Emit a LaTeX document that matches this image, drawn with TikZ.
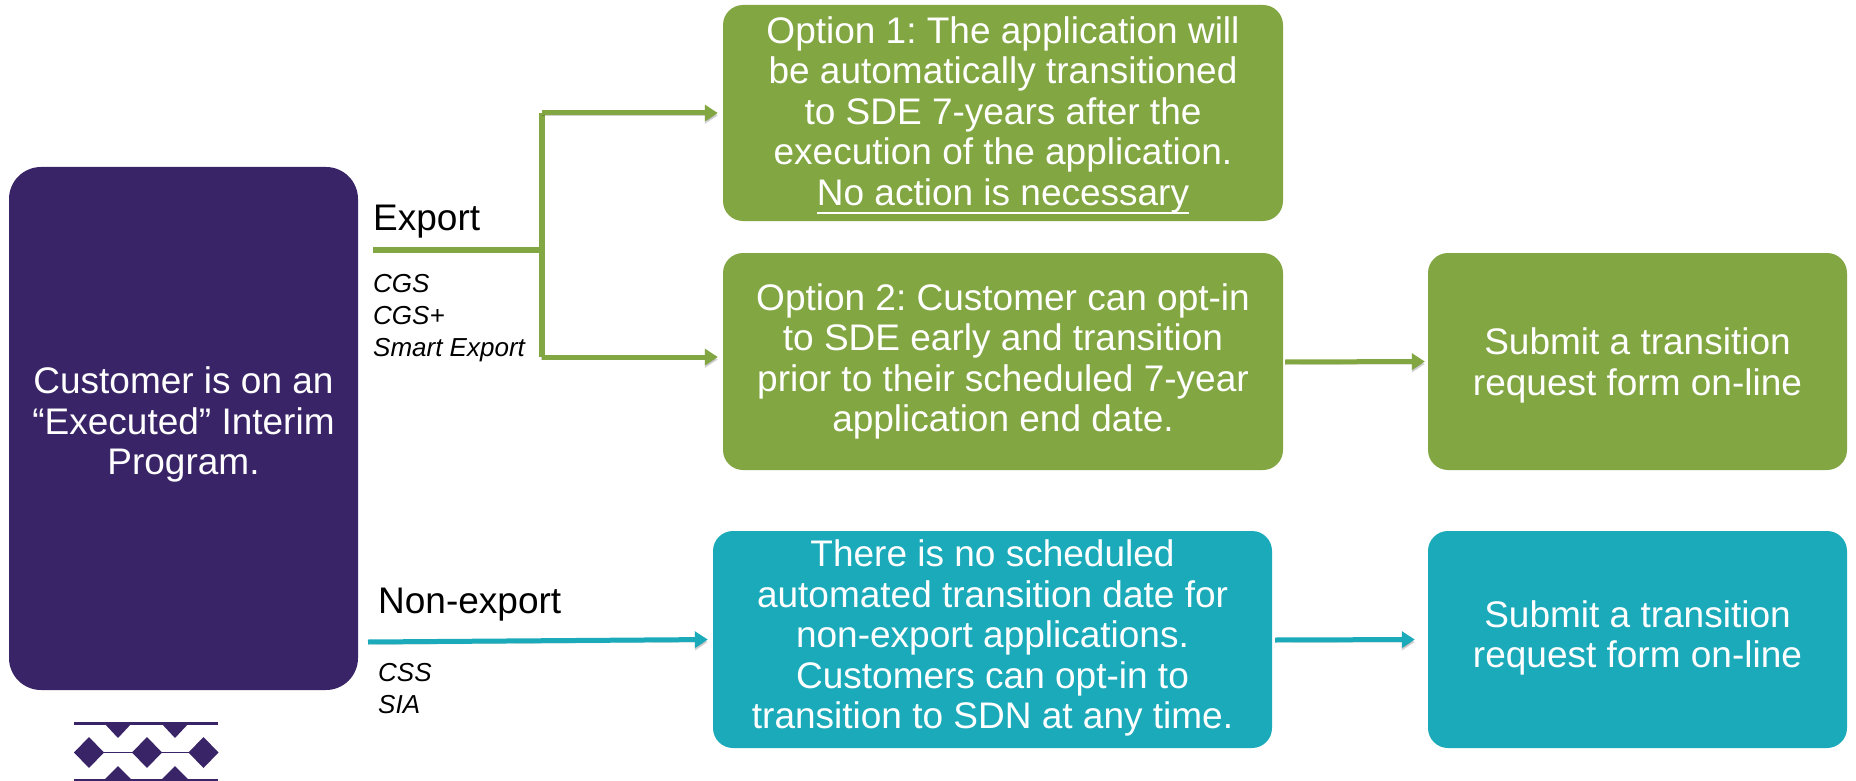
\documentclass[tikz,border=0pt]{standalone}
\usepackage{fontspec}
\setmainfont{Liberation Sans}
\usetikzlibrary{arrows.meta}
\definecolor{plum}{RGB}{57,36,103}
\definecolor{leaf}{RGB}{130,166,66}
\definecolor{sea}{RGB}{27,170,186}
\newcommand\bigtxt{\fontsize{37}{40.5}\selectfont\frenchspacing}
\newcommand\tagtxt{\fontsize{26}{32}\selectfont\itshape}
\newcommand\undertext[1]{\setbox0\hbox{#1}\rlap{\rule[-9pt]{\wd0}{2.5pt}}\box0}
\newcommand\tall[1]{\rule{0pt}{#1}}
\newcommand\deep[1]{\rule[-#1]{0pt}{#1}}
\begin{document}
\begin{tikzpicture}[x=1pt,y=-1pt]
\tikzset{box/.style={rounded corners=20pt,text=white,align=center,inner sep=0pt,font=\bigtxt},
  greenbox/.style={box,fill=leaf},
  seabox/.style={box,fill=sea},
  head/.style={anchor=base west,inner sep=0pt,font=\bigtxt},
  tag/.style={anchor=base west,inner sep=0pt,font=\tagtxt},
  wire/.style={line width=#1,preaction={draw=black,opacity=.18,transform canvas={yshift=-2.5pt}}},
  go/.style={-{Triangle[length=13pt,width=16pt]},shorten >=#1}}
\useasboundingbox (0,0) rectangle (1856,781);

\node[box,fill=plum,rounded corners=32pt,minimum width=349pt,minimum height=523pt](cust)at(183.5,428.5){Customer is on an\\``Executed'' Interim\\Program.\deep{15pt}};
\node[greenbox,minimum width=560pt,minimum height=216pt](optone)at(1003,113){\tall{31pt}Option 1: The application will\\be automatically transitioned\\to SDE 7-years after the\\execution of the application.\\\undertext{No action is necessary}};
\node[greenbox,minimum width=560pt,minimum height=217pt](opttwo)at(1003,361.5){Option 2: Customer can opt-in\\to SDE early and transition\\prior to their scheduled 7-year\\application end date.};
\node[greenbox,minimum width=419pt,minimum height=217pt](formgreen)at(1637.5,361.5){\tall{35pt}Submit a transition\\request form on-line};
\node[seabox,minimum width=559pt,minimum height=217pt](noexp)at(992.5,639.5){There is no scheduled\\automated transition date for\\non-export applications.\\Customers can opt-in to\\transition to SDN at any time.\deep{10pt}};
\node[seabox,minimum width=419pt,minimum height=217pt](formsea)at(1637.5,639.5){Submit a transition\\request form on-line\deep{11pt}};

\node[head](export)at(373,230){Export};
\node[tag](cgs)at(373,292){CGS};
\node[tag](cgsp)at(373,324){CGS+};
\node[tag](smart)at(373,356){Smart Export};
\node[head](nonexp)at(378,613){Non-export};
\node[tag](css)at(378,681){CSS};
\node[tag](sia)at(378,713){SIA};

\coordinate(expstart)at(373,250);
\coordinate(joinmid)at(541.5,250);
\coordinate(jointop)at(541.5,113);
\coordinate(joinlow)at(541.5,357);
\coordinate(greenstart)at(1285,362);
\coordinate(seastart)at(368,642);
\coordinate(seamid)at(1275,640);
\draw[leaf,wire=6pt](expstart)--(joinmid);
\draw[leaf,wire=6pt](jointop)--(joinlow);
\draw[leaf,wire=5pt,go=5pt](jointop)--(optone.west|-jointop);
\draw[leaf,wire=5pt,go=5pt](joinlow)--(opttwo.west|-joinlow);
\draw[leaf,wire=5pt,go=3pt](greenstart)--(formgreen.west);
\draw[sea,wire=5pt,go=5pt](seastart)--(noexp.west);
\draw[sea,wire=5pt,go=13pt](seamid)--(formsea.west);

% logo
\fill[plum](74,722)rectangle(218,724.5);
\fill[plum](74,778.5)rectangle(218,781);
\draw[plum,thin](104,752)--(189,752);
\foreach \cx in {89,147,203.5}
  \fill[plum](\cx-15,752.5)--(\cx,737)--(\cx+15,752.5)--(\cx,768)--cycle;
\foreach \cx in {118,175}{
  \fill[plum](\cx-14,723)--(\cx+14,723)--(\cx,738)--cycle;
  \fill[plum](\cx-14,780)--(\cx+14,780)--(\cx,766)--cycle;}
\end{tikzpicture}
\end{document}
